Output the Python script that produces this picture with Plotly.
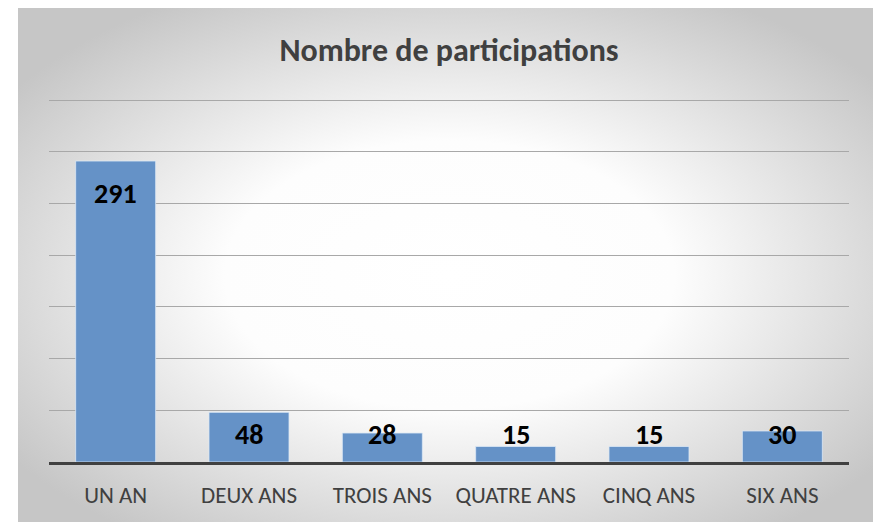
import base64
import plotly.graph_objects as go

categories = ["UN AN", "DEUX ANS", "TROIS ANS", "QUATRE ANS", "CINQ ANS", "SIX ANS"]
values = [291, 48, 28, 15, 15, 30]
title_text = "Nombre de participations"

OFF = 8  # page body margin
W, H = 881 - OFF, 522 - OFF
L, R, T, B = 49 - OFF, 32, 90, 60
pw, ph = W - L - R, H - T - B
GRID_TOP_PX = 362  # pixels from baseline to the 350 gridline
YMAX = 350
YRANGE_MAX = ph * YMAX / GRID_TOP_PX

# label positions (Excel "inside end" style, clamped near baseline)
label_y = [max(v - 31, 27) for v in values]

svg = '''<svg xmlns="http://www.w3.org/2000/svg" width="863" height="515" viewBox="0 0 863 515" preserveAspectRatio="none">
<defs><radialGradient id="g" cx="50%" cy="52%" r="62%" fx="50%" fy="52%">
<stop offset="0" stop-color="#ffffff"/><stop offset="0.42" stop-color="#fdfdfd"/>
<stop offset="1" stop-color="#c6c6c6"/></radialGradient></defs>
<rect x="0" y="0" width="863" height="515" fill="url(#g)"/>
<line x1="0" y1="0.5" x2="863" y2="0.5" stroke="#e6e6e6" stroke-width="1"/>
</svg>'''
src = "data:image/svg+xml;base64," + base64.b64encode(svg.encode()).decode()

def px_to_paper_x(px):
    return (px - OFF - L) / pw

def px_to_paper_y(py):
    return (H - B - (py - OFF)) / ph

FONT = "Carlito, Open Sans"

fig = go.Figure()
fig.add_trace(go.Bar(
    x=categories, y=values,
    marker=dict(color="#6592C7", line=dict(color="rgba(220,232,245,0.8)", width=1)),
    width=0.6, hoverinfo="x+y",
))

for c, v, ly in zip(categories, values, label_y):
    fig.add_annotation(x=c, y=ly, text=f"<b>{v}</b>", showarrow=False,
                       font=dict(family=FONT, size=28, color="#000000"),
                       xanchor="center", yanchor="middle")

fig.add_layout_image(dict(
    source=src, xref="paper", yref="paper",
    x=px_to_paper_x(18), y=px_to_paper_y(7),
    sizex=px_to_paper_x(881) - px_to_paper_x(18),
    sizey=px_to_paper_y(7) - px_to_paper_y(522),
    sizing="stretch", xanchor="left", yanchor="top", layer="below",
))

fig.update_layout(
    width=W, height=H,
    margin=dict(l=L, r=R, t=T, b=B, pad=0),
    paper_bgcolor="#ffffff", plot_bgcolor="rgba(0,0,0,0)",
    showlegend=False,
    title=dict(text=f"<b>{title_text}</b>", x=(449 - OFF) / W, y=1 - (50 - OFF) / H,
               xref="container", yref="container", xanchor="center", yanchor="middle",
               font=dict(family=FONT, size=32, color="#404040")),
    bargap=0.4,
)
fig.update_xaxes(
    showline=True, linecolor="#404040", linewidth=3,
    ticks="outside", ticklen=10, tickcolor="rgba(0,0,0,0)",
    tickfont=dict(family=FONT, size=23, color="#404040"),
    showgrid=False, fixedrange=True,
)
fig.update_yaxes(
    range=[0, YRANGE_MAX], tickvals=[50, 100, 150, 200, 250, 300, 350],
    showgrid=True, gridcolor="#a8a8a8", gridwidth=1.2,
    showticklabels=False, zeroline=False, ticks="", fixedrange=True,
)

fig.write_html("out.html")
